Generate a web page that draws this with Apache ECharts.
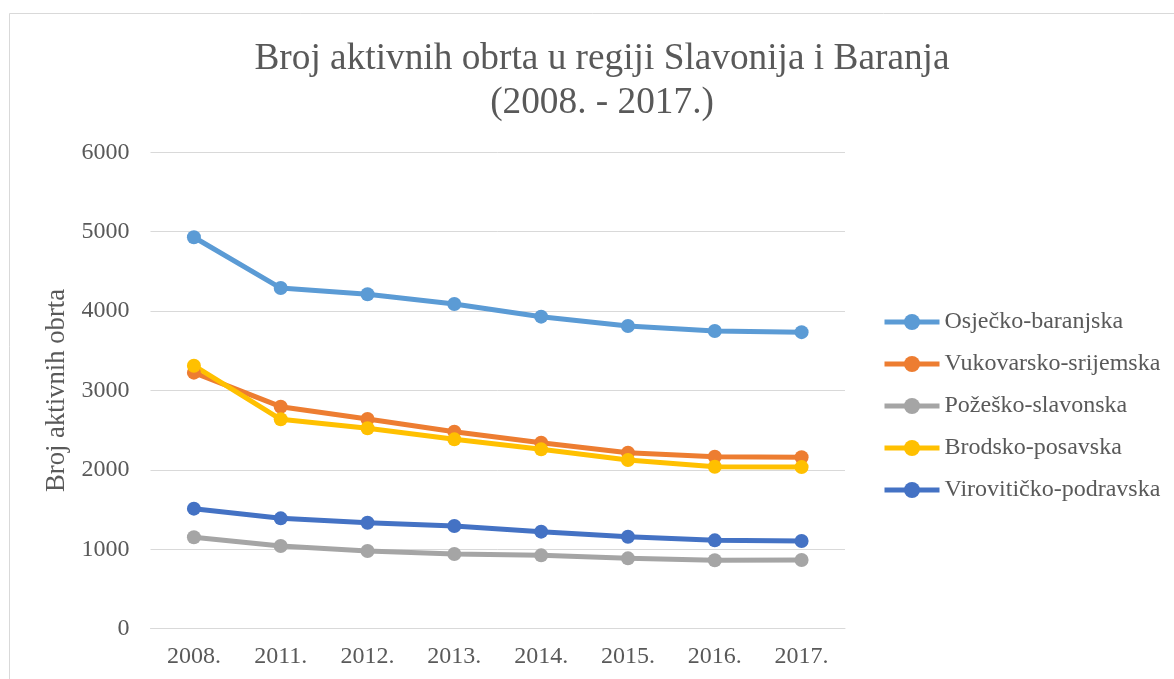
<!DOCTYPE html>
<html>
<head>
<meta charset="utf-8">
<script src="https://cdn.jsdelivr.net/npm/echarts@6/dist/echarts.min.js"></script>
<style>
html,body{margin:0;padding:0;background:#fff;}
#c{width:1174px;height:679px;}
</style>
</head>
<body>
<div id="c"></div>
<script>
const categories = ['2008.', '2011.', '2012.', '2013.', '2014.', '2015.', '2016.', '2017.'];
const yTicks = [0, 1000, 2000, 3000, 4000, 5000, 6000];
const osjecko = [4930, 4290, 4212, 4089, 3930, 3812, 3749, 3735];
const vukovarsko = [3225, 2796, 2641, 2481, 2343, 2217, 2166, 2160];
const pozesko = [1151, 1042, 979, 941, 924, 886, 863, 865];
const brodsko = [3312, 2637, 2524, 2385, 2259, 2125, 2040, 2035];
const viroviticko = [1512, 1390, 1335, 1293, 1222, 1159, 1113, 1105];

const seriesDefs = [
  {name: 'Osječko-baranjska', data: osjecko, color: '#5B9BD5'},
  {name: 'Vukovarsko-srijemska', data: vukovarsko, color: '#ED7D31'},
  {name: 'Požeško-slavonska', data: pozesko, color: '#A5A5A5'},
  {name: 'Brodsko-posavska', data: brodsko, color: '#FFC000'},
  {name: 'Virovitičko-podravska', data: viroviticko, color: '#4472C4'}
];

const FONT = '"Liberation Serif", "Times New Roman", serif';
const TXT = '#595959';

const chart = echarts.init(document.getElementById('c'), null, {renderer: 'canvas'});
chart.setOption({
  animation: false,
  backgroundColor: '#fff',
  graphic: [{
    type: 'rect',
    silent: true,
    shape: {x: 9.5, y: 13.5, width: 1300, height: 800},
    style: {fill: 'none', stroke: '#d9d9d9', lineWidth: 1}
  }],
  title: {
    text: 'Broj aktivnih obrta u regiji Slavonija i Baranja\n(2008. - 2017.)',
    left: 597,
    textAlign: 'center',
    top: 32,
    textStyle: {fontFamily: FONT, fontSize: 37.3, fontWeight: 'normal', color: TXT, lineHeight: 44}
  },
  legend: {
    orient: 'vertical',
    left: 877,
    top: 305,
    itemWidth: 55,
    itemHeight: 20,
    itemGap: 18,
    lineStyle: {width: 5},
    textStyle: {fontFamily: FONT, fontSize: 24, color: TXT},
    data: seriesDefs.map(s => s.name)
  },
  grid: {left: 150.5, right: 329, top: 152.3, bottom: 50.3, containLabel: false},
  xAxis: {
    type: 'category',
    data: categories,
    boundaryGap: true,
    axisLine: {show: true, lineStyle: {color: '#d9d9d9', width: 1}},
    axisTick: {show: false},
    axisLabel: {fontFamily: FONT, fontSize: 24, color: TXT, margin: 16}
  },
  yAxis: {
    type: 'value',
    min: yTicks[0],
    max: yTicks[yTicks.length - 1],
    interval: 1000,
    name: 'Broj aktivnih obrta',
    nameLocation: 'middle',
    nameRotate: 90,
    nameGap: 58,
    nameTextStyle: {fontFamily: FONT, fontSize: 26.7, color: TXT},
    axisLine: {show: false},
    axisTick: {show: false},
    axisLabel: {fontFamily: FONT, fontSize: 24, color: TXT, margin: 21, formatter: v => String(v)},
    splitLine: {lineStyle: {color: '#d9d9d9', width: 1}}
  },
  series: seriesDefs.map(s => ({
    name: s.name,
    type: 'line',
    data: s.data,
    symbol: 'circle',
    symbolSize: 14,
    lineStyle: {width: 5, color: s.color},
    itemStyle: {color: s.color},
    emphasis: {disabled: true}
  }))
});
</script>
</body>
</html>
